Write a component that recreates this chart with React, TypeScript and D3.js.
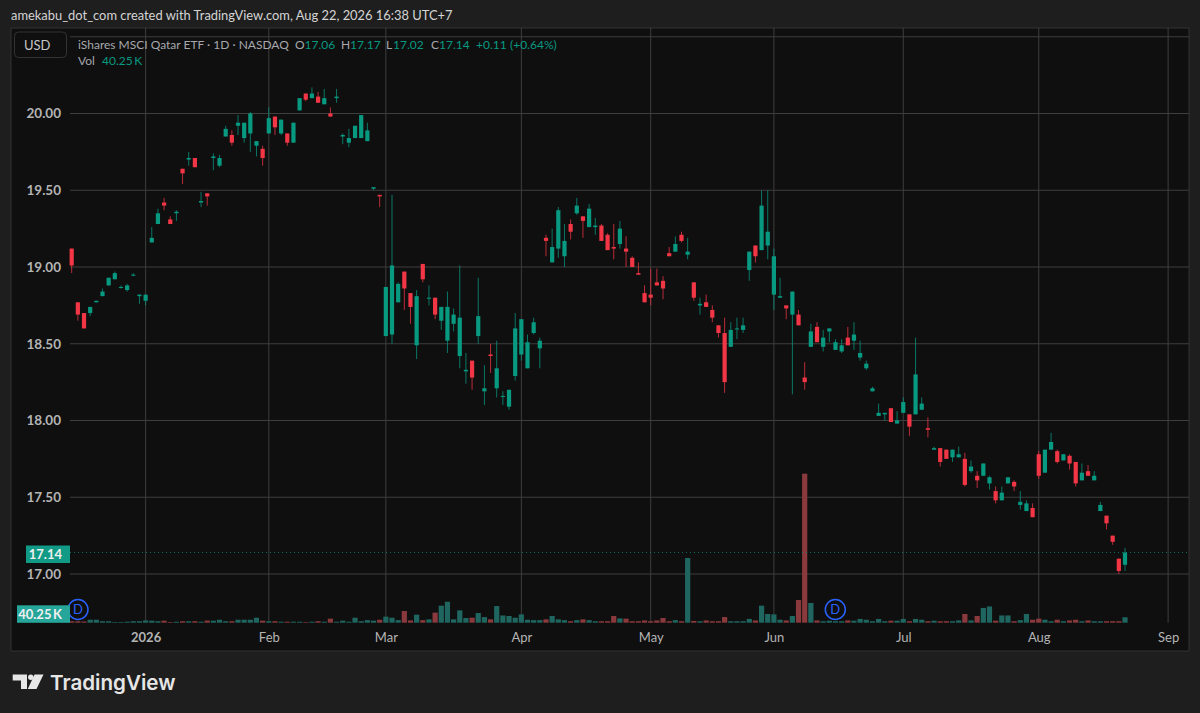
import { useEffect, useRef } from "react";
import * as d3 from "d3";

// Daily bars, oldest first
const opens: number[] = [
  19.12, 18.77, 18.7, 18.7, 18.77, 18.81, 18.88, 18.92, 18.87, 18.85,
  18.95, 18.81, 18.78, 19.16, 19.28, 19.42, 19.31, 19.35, 19.64, 19.7,
  19.71, 19.42, 19.48, 19.71, 19.66, 19.85, 19.86, 19.92, 19.84, 19.87,
  19.79, 19.77, 19.87, 19.98, 19.87, 19.87, 19.81, 20.02, 20.13, 20.1,
  20.11, 20.06, 20.0, 20.1, 19.85, 19.81, 19.84, 19.84, 19.82, 19.51,
  19.47, 18.55, 18.56, 18.77, 18.97, 18.83, 18.49, 19.02, 18.8, 18.8,
  18.65, 18.52, 18.63, 18.42, 18.32, 18.39, 18.55, 18.19, 18.43, 18.21,
  18.16, 18.09, 18.29, 18.43, 18.34, 18.57, 18.47, 19.19, 19.03, 19.12,
  19.07, 19.28, 19.35, 19.33, 19.26, 19.26, 19.27, 19.21, 19.13, 19.15,
  19.12, 19.06, 18.96, 18.83, 18.82, 18.9, 18.91, 19.09, 19.1, 19.21,
  19.08, 18.9, 18.75, 18.77, 18.72, 18.62, 18.57, 18.48, 18.6, 18.59,
  18.98, 19.14, 19.11, 19.14, 18.82, 18.8, 18.75, 18.69, 18.69, 18.28,
  18.48, 18.61, 18.48, 18.58, 18.46, 18.45, 18.54, 18.52, 18.41, 18.34,
  18.19, 18.03, 18.04, 18.08, 17.98, 18.05, 18.04, 18.04, 18.07, 17.95,
  17.81, 17.82, 17.81, 17.76, 17.76, 17.75, 17.67, 17.64, 17.64, 17.59,
  17.54, 17.48, 17.59, 17.6, 17.45, 17.41, 17.43, 17.78, 17.66, 17.81,
  17.8, 17.74, 17.77, 17.73, 17.61, 17.67, 17.61, 17.41, 17.38, 17.25,
  17.1, 17.06,
];

const highs: number[] = [
  19.12, 18.77, 18.7, 18.74, 18.78, 18.86, 18.93, 18.97, 18.88, 18.89,
  18.96, 18.82, 18.82, 19.26, 19.38, 19.45, 19.33, 19.37, 19.64, 19.75,
  19.71, 19.49, 19.48, 19.74, 19.73, 19.92, 19.89, 19.99, 19.94, 20.01,
  19.82, 19.79, 20.04, 19.98, 19.96, 19.87, 19.94, 20.1, 20.13, 20.17,
  20.14, 20.16, 20.04, 20.16, 19.87, 19.9, 19.92, 19.99, 19.94, 19.52,
  19.47, 18.87, 19.47, 18.9, 18.97, 18.83, 18.85, 19.02, 18.88, 18.8,
  18.74, 18.84, 18.73, 19.01, 18.44, 18.39, 18.93, 18.36, 18.5, 18.52,
  18.19, 18.2, 18.7, 18.66, 18.56, 18.67, 18.54, 19.21, 19.25, 19.39,
  19.28, 19.31, 19.45, 19.33, 19.41, 19.32, 19.28, 19.22, 19.28, 19.3,
  19.2, 19.07, 19.03, 18.88, 18.99, 18.99, 18.94, 19.13, 19.2, 19.23,
  19.19, 18.9, 18.8, 18.82, 18.75, 18.62, 18.67, 18.64, 18.67, 18.67,
  19.1, 19.14, 19.5, 19.5, 19.12, 18.93, 18.75, 18.84, 18.72, 18.38,
  18.63, 18.64, 18.59, 18.6, 18.53, 18.53, 18.61, 18.64, 18.52, 18.39,
  18.22, 18.11, 18.05, 18.08, 18.06, 18.15, 18.04, 18.54, 18.15, 18.02,
  17.83, 17.82, 17.81, 17.81, 17.83, 17.79, 17.74, 17.67, 17.72, 17.64,
  17.57, 17.57, 17.63, 17.61, 17.54, 17.48, 17.46, 17.8, 17.81, 17.92,
  17.81, 17.78, 17.78, 17.73, 17.72, 17.71, 17.67, 17.47, 17.38, 17.25,
  17.1, 17.17,
];

const lows: number[] = [
  18.96, 18.65, 18.6, 18.68, 18.77, 18.81, 18.88, 18.92, 18.86, 18.84,
  18.94, 18.76, 18.75, 19.16, 19.28, 19.37, 19.28, 19.3, 19.54, 19.66,
  19.65, 19.39, 19.4, 19.63, 19.65, 19.85, 19.79, 19.86, 19.81, 19.75,
  19.72, 19.66, 19.87, 19.86, 19.86, 19.79, 19.81, 20.02, 20.08, 20.1,
  20.07, 20.06, 19.98, 20.07, 19.8, 19.78, 19.84, 19.84, 19.82, 19.5,
  19.39, 18.55, 18.5, 18.77, 18.72, 18.63, 18.4, 18.9, 18.75, 18.66,
  18.59, 18.44, 18.58, 18.34, 18.24, 18.2, 18.5, 18.1, 18.31, 18.15,
  18.1, 18.07, 18.26, 18.39, 18.34, 18.56, 18.34, 19.07, 19.03, 19.06,
  19.0, 19.18, 19.34, 19.19, 19.26, 19.21, 19.17, 19.11, 19.05, 19.12,
  19.0, 19.0, 18.95, 18.77, 18.75, 18.88, 18.79, 19.07, 19.1, 19.16,
  19.05, 18.78, 18.69, 18.74, 18.64, 18.54, 18.18, 18.48, 18.53, 18.57,
  18.91, 19.03, 19.11, 19.05, 18.72, 18.8, 18.66, 18.17, 18.62, 18.2,
  18.48, 18.51, 18.45, 18.51, 18.46, 18.44, 18.49, 18.46, 18.39, 18.33,
  18.19, 18.03, 18.0, 17.99, 17.98, 18.05, 17.9, 18.04, 18.07, 17.89,
  17.81, 17.7, 17.75, 17.73, 17.76, 17.57, 17.66, 17.56, 17.64, 17.55,
  17.46, 17.48, 17.59, 17.54, 17.42, 17.41, 17.37, 17.62, 17.66, 17.81,
  17.72, 17.74, 17.68, 17.57, 17.61, 17.64, 17.61, 17.41, 17.29, 17.19,
  17.0, 17.02,
];

const closes: number[] = [
  19.01, 18.69, 18.6, 18.74, 18.78, 18.84, 18.93, 18.96, 18.87, 18.88,
  18.95, 18.82, 18.82, 19.19, 19.35, 19.4, 19.28, 19.36, 19.61, 19.71,
  19.65, 19.43, 19.46, 19.72, 19.71, 19.9, 19.81, 19.94, 19.94, 20.0,
  19.82, 19.71, 19.97, 19.91, 19.96, 19.81, 19.94, 20.1, 20.09, 20.13,
  20.07, 20.1, 19.98, 20.11, 19.86, 19.84, 19.92, 19.99, 19.89, 19.52,
  19.46, 18.87, 19.01, 18.89, 18.86, 18.74, 18.81, 18.92, 18.8, 18.69,
  18.74, 18.74, 18.69, 18.67, 18.33, 18.28, 18.68, 18.21, 18.42, 18.34,
  18.16, 18.2, 18.6, 18.66, 18.51, 18.64, 18.52, 19.17, 19.13, 19.37,
  19.17, 19.23, 19.4, 19.3, 19.38, 19.27, 19.17, 19.11, 19.12, 19.25,
  19.1, 19.0, 18.95, 18.77, 18.8, 18.88, 18.86, 19.07, 19.15, 19.17,
  19.1, 18.8, 18.76, 18.74, 18.67, 18.57, 18.25, 18.59, 18.6, 18.62,
  19.1, 19.07, 19.4, 19.23, 19.07, 18.81, 18.73, 18.84, 18.62, 18.25,
  18.58, 18.51, 18.54, 18.6, 18.51, 18.49, 18.49, 18.56, 18.44, 18.37,
  18.21, 18.05, 18.05, 17.99, 18.0, 18.12, 17.96, 18.3, 18.11, 17.94,
  17.82, 17.73, 17.75, 17.81, 17.78, 17.58, 17.7, 17.61, 17.72, 17.63,
  17.48, 17.53, 17.63, 17.57, 17.47, 17.46, 17.37, 17.64, 17.81, 17.86,
  17.73, 17.78, 17.72, 17.59, 17.66, 17.64, 17.64, 17.45, 17.33, 17.21,
  17.02, 17.14,
];

// Volume in thousands of shares
const volumes: number[] = [
  11, 11, 9, 22, 22, 11, 11, 5, 5, 7.5,
  11, 11, 17, 15, 11, 15, 5, 7.5, 11, 11,
  11, 7.5, 16, 15, 22, 11, 11, 22, 22, 22,
  37, 15, 11, 11, 7.5, 7.5, 7.5, 7.5, 5, 7.5,
  11, 7.5, 30, 7.5, 15, 7.5, 37, 11, 19, 15,
  22, 45, 37, 19, 87, 17, 60, 19, 25, 75,
  127, 156, 25, 92, 35, 37, 72, 42, 25, 124,
  54, 50, 37, 62, 22, 19, 19, 25, 50, 25,
  19, 11, 19, 25, 19, 11, 11, 11, 50, 32,
  30, 11, 11, 17, 11, 17, 35, 11, 19, 11,
  482, 13, 11, 17, 11, 11, 42, 11, 11, 11,
  28, 17, 127, 65, 62, 22, 17, 50, 169, 1110,
  147, 17, 11, 15, 11, 11, 17, 15, 28, 22,
  11, 28, 11, 15, 15, 28, 11, 28, 22, 11,
  15, 11, 11, 11, 17, 65, 17, 50, 110, 121,
  15, 54, 54, 11, 19, 65, 22, 30, 22, 11,
  22, 11, 17, 22, 11, 17, 11, 11, 11, 11,
  11, 40.25,
];

const priceTicks = [17, 17.5, 18, 18.5, 19, 19.5, 20];
const priceGrid = [17, 17.5, 18, 18.5, 19, 19.5, 20, 20.5];
const monthBars = [12, 32, 51, 73, 94, 114, 135, 157, 178];
const monthLabels = ["2026", "Feb", "Mar", "Apr", "May", "Jun", "Jul", "Aug", "Sep"];
const dividendBars = [1, 122];

const lastClose = 17.14;
const lastVolume = 40.25;

const UP = "#089981";
const DOWN = "#f23645";
const VOL_UP = "#1f6660";
const VOL_DOWN = "#8a3a3d";
const FONT = "Lato, 'Open Sans', sans-serif";

function App() {
  const svgRef = useRef<SVGSVGElement>(null);

  useEffect(() => {
    if (!svgRef.current) return;

    const svg = d3.select(svgRef.current);
    svg.selectAll("*").remove();

    const width = 1200;
    const height = 713;
    svg.attr("width", width).attr("height", height);

    // Pane edges
    const pane = { left: 11, top: 28, right: 1189, bottom: 651 };
    const plotLeft = 70;
    const volBase = 622.7;

    const x = d3.scaleLinear().domain([0, 171]).range([71.7, 1125]);
    const y = d3.scaleLinear().domain([17, 20]).range([574, 113.5]);
    const yVol = d3.scaleLinear().domain([0, 1110]).range([volBase, 473.7]);

    const bars = d3.range(opens.length);

    // Page and pane background
    svg.append("rect").attr("width", width).attr("height", height).attr("fill", "#1e1e1e");
    svg
      .append("rect")
      .attr("x", pane.left)
      .attr("y", pane.top)
      .attr("width", pane.right - pane.left)
      .attr("height", pane.bottom - pane.top)
      .attr("fill", "#0f0f0f")
      .attr("stroke", "#333333");

    // Grid
    svg
      .append("g")
      .selectAll("line")
      .data(priceGrid)
      .join("line")
      .attr("x1", plotLeft)
      .attr("x2", pane.right)
      .attr("y1", (d) => y(d))
      .attr("y2", (d) => y(d))
      .attr("stroke", "#3e3e3e");

    svg
      .append("g")
      .selectAll("line")
      .data(monthBars)
      .join("line")
      .attr("x1", (d) => x(d))
      .attr("x2", (d) => x(d))
      .attr("y1", pane.top)
      .attr("y2", volBase)
      .attr("stroke", "#3e3e3e");

    // Volume
    svg
      .append("g")
      .selectAll("rect")
      .data(bars)
      .join("rect")
      .attr("x", (i) => x(i) - 2.6)
      .attr("y", (i) => yVol(volumes[i]))
      .attr("width", 5.2)
      .attr("height", (i) => volBase - yVol(volumes[i]))
      .attr("fill", (i) => (closes[i] >= opens[i] ? VOL_UP : VOL_DOWN));

    // Last price line
    svg
      .append("line")
      .attr("x1", plotLeft)
      .attr("x2", pane.right)
      .attr("y1", y(lastClose))
      .attr("y2", y(lastClose))
      .attr("stroke", UP)
      .attr("stroke-opacity", 0.7)
      .attr("stroke-dasharray", "1 3");

    // Candles
    const candles = svg.append("g");
    candles
      .selectAll("line")
      .data(bars)
      .join("line")
      .attr("x1", (i) => x(i))
      .attr("x2", (i) => x(i))
      .attr("y1", (i) => y(highs[i]))
      .attr("y2", (i) => y(lows[i]))
      .attr("stroke", (i) => (closes[i] >= opens[i] ? UP : DOWN))
      .attr("stroke-opacity", 0.75);

    candles
      .selectAll("rect")
      .data(bars)
      .join("rect")
      .attr("x", (i) => x(i) - 2.1)
      .attr("y", (i) => y(Math.max(opens[i], closes[i])))
      .attr("width", 4.2)
      .attr("height", (i) => Math.max(1, Math.abs(y(opens[i]) - y(closes[i]))))
      .attr("fill", (i) => (closes[i] >= opens[i] ? UP : DOWN));

    // Dividend markers
    const markers = svg
      .append("g")
      .selectAll("g")
      .data(dividendBars)
      .join("g")
      .attr("transform", (d) => `translate(${d === 1 ? 78 : 835.3},609.5)`);
    markers.append("circle").attr("r", 10).attr("fill", "#0f0f0f").attr("fill-opacity", 0.4).attr("stroke", "#2962ff").attr("stroke-width", 1.5);
    markers
      .append("text")
      .attr("text-anchor", "middle")
      .attr("y", 4.5)
      .attr("font-family", FONT)
      .attr("font-size", 13)
      .attr("fill", "#2962ff")
      .text("D");

    // Price axis
    const priceAxis = svg
      .append("g")
      .attr("transform", `translate(64,0)`)
      .call(d3.axisLeft(y).tickValues(priceTicks).tickSize(0).tickPadding(3).tickFormat((d) => (d as number).toFixed(2)));
    priceAxis.select(".domain").remove();
    priceAxis
      .selectAll("text")
      .attr("font-family", FONT)
      .attr("font-size", 13.5)
      .attr("font-weight", 700)
      .attr("fill", "#b4b4b4");

    // Time axis
    const timeAxis = svg
      .append("g")
      .attr("transform", `translate(0,630)`)
      .call(d3.axisBottom(x).tickValues(monthBars).tickSize(0).tickPadding(3).tickFormat((_, i) => monthLabels[i]));
    timeAxis.select(".domain").remove();
    timeAxis
      .selectAll("text")
      .attr("font-family", FONT)
      .attr("font-size", 13)
      .attr("fill", "#b4b4b4")
      .attr("font-weight", (_, i) => (i === 0 ? 700 : 400));

    // Axis badges
    const badge = (bx: number, by: number, w: number, h: number, fill: string, label: string) => {
      svg.append("rect").attr("x", bx).attr("y", by).attr("width", w).attr("height", h).attr("fill", fill);
      svg
        .append("text")
        .attr("x", bx + w - 8)
        .attr("y", by + h / 2 + 4.5)
        .attr("text-anchor", "end")
        .attr("font-family", FONT)
        .attr("font-size", 13)
        .attr("font-weight", 700)
        .attr("fill", "#f0f0f0")
        .text(label);
    };
    badge(26, 545.5, 44, 17.5, "#119a85", lastClose.toFixed(2));
    badge(17, 605.3, 53, 17.5, "#26a69a", `${lastVolume.toFixed(2)}\u2009K`);

    // Header text
    const label = (tx: number, ty: number, text: string, fill: string, size = 12) =>
      svg
        .append("text")
        .attr("x", tx)
        .attr("y", ty)
        .attr("font-family", FONT)
        .attr("font-size", size)
        .attr("fill", fill)
        .text(text);

    label(11, 20, "amekabu_dot_com created with TradingView.com, Aug 22, 2026 16:38 UTC+7", "#d4d4d4", 12.9);

    svg
      .append("rect")
      .attr("x", 14.5)
      .attr("y", 32)
      .attr("width", 52)
      .attr("height", 25.5)
      .attr("rx", 4)
      .attr("fill", "#0f0f0f")
      .attr("stroke", "#333333");
    label(24, 49.5, "USD", "#c8c8c8", 13);

    const muted = "#a6a8ad";
    label(78, 49, "iShares MSCI Qatar ETF · 1D · NASDAQ", muted);
    label(295, 49, "O", muted);
    label(304.5, 49, "17.06", UP);
    label(341, 49, "H", muted);
    label(350, 49, "17.17", UP);
    label(386, 49, "L", muted);
    label(393, 49, "17.02", UP);
    label(431, 49, "C", muted);
    label(439, 49, "17.14", UP);
    label(476, 49, "+0.11", UP);
    label(510, 49, "(+0.64%)", UP);
    label(78, 65, "Vol", muted);
    label(102, 65, "40.25\u2009K", UP);

    // Footer logo
    svg
      .append("path")
      .attr("d", "M12.7 674.5H27V689H21V680.5H12.7ZM34.5 674.5H43.5L36.5 689H27.8Z")
      .attr("fill", "#e6e6e6");
    svg.append("circle").attr("cx", 30.8).attr("cy", 677.2).attr("r", 2.7).attr("fill", "#e6e6e6");
    label(50, 689.5, "TradingView", "#e6e6e6", 20.6).attr("font-weight", 600).attr("font-family", "Inter, 'Open Sans', sans-serif");
  }, []);

  return <svg ref={svgRef} style={{ position: "absolute", left: 0, top: 0, display: "block" }}></svg>;
}

export default App;
